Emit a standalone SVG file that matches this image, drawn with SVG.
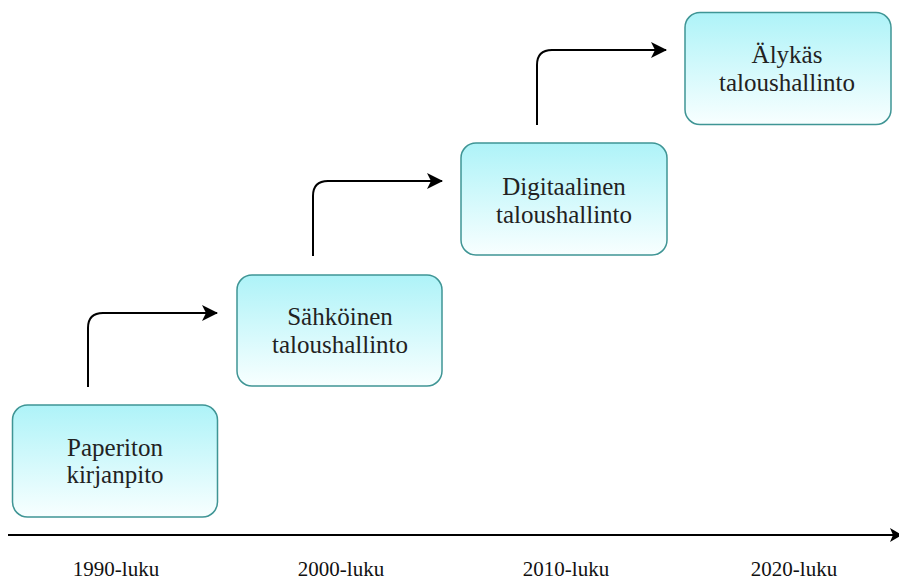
<svg xmlns="http://www.w3.org/2000/svg" width="899" height="583" viewBox="0 0 899 583">
<style>
.box{fill:url(#g);stroke:#3f9595;stroke-width:1.5}
.t{font-family:"Liberation Serif","Times New Roman",serif;font-size:25px;fill:#222;text-anchor:middle}
.lbl{font-family:"Liberation Serif","Times New Roman",serif;font-size:21px;fill:#111;text-anchor:middle}
.c{fill:none;stroke:#000;stroke-width:2}
</style>
<defs>
<linearGradient id="g" x1="0" y1="0" x2="0" y2="1">
<stop offset="0" stop-color="#aef3f8"/>
<stop offset="1" stop-color="#f8ffff"/>
</linearGradient>
<marker id="a" markerWidth="12" markerHeight="14" refX="11" refY="7" orient="auto" markerUnits="userSpaceOnUse" viewBox="0 0 12 14">
<path d="M0,0 L12,7 L0,14 L3,7 Z" fill="#000"/>
</marker>
<marker id="b" markerWidth="16" markerHeight="16" refX="15" refY="8" orient="auto" markerUnits="userSpaceOnUse" viewBox="0 0 16 16">
<path d="M0,0 L16,8 L0,16 L4,8 Z" fill="#000"/>
</marker>
</defs>
<rect width="899" height="583" fill="#fff"/>
<g id="connectors">
<path class="c" d="M88,387 V328 Q88,313 103,313 H217" marker-end="url(#b)"/>
<path class="c" d="M313,256 V196 Q313,181 328,181 H442" marker-end="url(#b)"/>
<path class="c" d="M537,125 V65 Q537,50 552,50 H666" marker-end="url(#b)"/>
<path class="c" d="M8,535 H901" marker-end="url(#a)"/>
</g>
<g id="n1"><rect class="box" x="12.5" y="405" width="205" height="112" rx="15"/>
<text class="t" x="115" y="456">Paperiton</text><text class="t" x="115" y="483">kirjanpito</text></g>
<g id="n2"><rect class="box" x="237" y="275" width="205" height="111" rx="15"/>
<text class="t" x="340" y="325">Sähköinen</text><text class="t" x="340" y="353">taloushallinto</text></g>
<g id="n3"><rect class="box" x="461" y="143" width="206" height="112" rx="15"/>
<text class="t" x="564" y="195">Digitaalinen</text><text class="t" x="564" y="223">taloushallinto</text></g>
<g id="n4"><rect class="box" x="685" y="12.5" width="206" height="112" rx="15"/>
<text class="t" x="787" y="63">Älykäs</text><text class="t" x="787" y="91">taloushallinto</text></g>
<g id="labels">
<text class="lbl" x="116" y="576">1990-luku</text>
<text class="lbl" x="341" y="576">2000-luku</text>
<text class="lbl" x="566" y="576">2010-luku</text>
<text class="lbl" x="794" y="576">2020-luku</text>
</g>
</svg>
